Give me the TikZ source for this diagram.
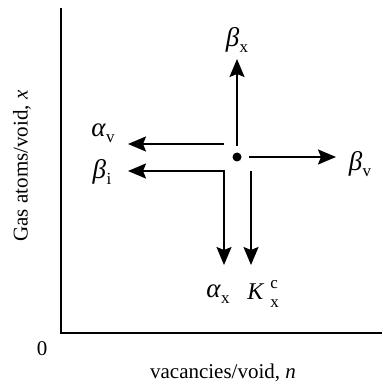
\documentclass[tikz,border=0pt]{standalone}
\usepackage{fontspec}
\setmainfont{Liberation Serif}
\usetikzlibrary{arrows.meta}
\newcommand\grk[2]{{\fontsize{27}{27}\selectfont\itshape #1}\kern0.5pt\raisebox{-0.3em}{\fontsize{17}{17}\selectfont #2}}
\begin{document}
\begin{tikzpicture}[x=1pt,y=-1pt,
  line width=2pt,
  tip/.tip={Stealth[length=18pt,width=15pt,inset=3pt]},
  arr/.style={-tip},
  lbl/.style={inner sep=0pt,font=\fontsize{21}{25}\selectfont},
  axis/.style={line width=1.8pt}]
\useasboundingbox (0,0) rectangle (382,387);
% axes
\coordinate (top) at (61,8);
\coordinate (org) at (61,333);
\coordinate (rgt) at (382,333);
\draw[axis] (top) -- (org) -- (rgt);
\node[lbl] (zero) at (42,349) {0};
\node[lbl] (xl) at (223,373) {vacancies/void, \textit{n}};
\node[lbl,rotate=90] (yl) at (22,166) {Gas atoms/void, \textit{x}};
% centre dot
\node[circle,fill,inner sep=0pt,minimum size=9pt] (dot) at (237,157) {};
% coordinates
\coordinate (us) at (237,146);
\coordinate (ut) at (237,59);
\coordinate (rs) at (249,157);
\coordinate (rt) at (336,157);
\coordinate (ls) at (224,144);
\coordinate (lt) at (128,144);
\coordinate (bt) at (128,171);
\coordinate (bd) at (224,265);
\coordinate (ks) at (251,171);
\coordinate (kt) at (251,265);
\draw[arr] (us) -- (ut);
\draw[arr] (rs) -- (rt);
\draw[arr] (ls) -- (lt);
\draw[tip-tip] (bt) -| (bd);
\draw[arr] (ks) -- (kt);
% labels
\node[lbl] (bx) at (237,40) {\grk{β}{x}};
\node[lbl] (bv) at (360,164) {\grk{β}{v}};
\node[lbl] (av) at (103,133) {\grk{α}{v}};
\node[lbl] (bi) at (102,172) {\grk{β}{i}};
\node[lbl] (ax) at (218,294) {\grk{α}{x}};
\node[lbl] (kx) at (263,294) {{\fontsize{24}{24}\selectfont\itshape K}\kern7pt\rlap{\raisebox{0.55em}{\fontsize{17}{17}\selectfont c}}\raisebox{-0.4em}{\fontsize{17}{17}\selectfont x}};
\end{tikzpicture}
\end{document}
